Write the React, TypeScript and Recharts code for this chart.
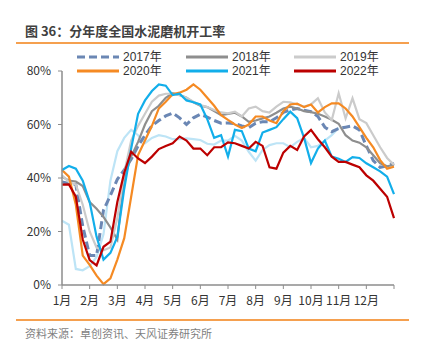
import React from 'react';
import { LineChart, Line, XAxis, YAxis } from 'recharts';

// weekly utilisation (%), week index 0..48
const WEEKS = Array.from({ length: 49 }, (_, i) => i);
const MONTHS = ['1月', '2月', '3月', '4月', '5月', '6月', '7月', '8月', '9月', '10月', '11月', '12月'];
const Y_TICKS = [0, 20, 40, 60, 80];

const s2017 = [38.5, 38, 37.5, 22, 11, 11, 28, 33.5, 39.5, 43, 47, 52, 56, 59.5, 61.5, 63.2, 64.3, 62.5, 60, 62.5, 63.8, 62.8, 61.5, 60.5, 60.6, 60.3, 59.5, 58.8, 60.5, 61, 61, 62.5, 64.5, 65.5, 66, 65.3, 64.8, 63, 59, 57.3, 58.5, 59, 59.5, 58, 52, 46.5, 44, 44.5, 45.5];
const s2018 = [40.5, 39, 38.7, 37, 31, 28.5, 25.5, 21.5, 17, 40, 48, 53.5, 60, 65, 67, 70, 71.7, 71, 70, 68.3, 67, 66.5, 65, 63.5, 64, 64.4, 63, 61, 61.5, 62.3, 63, 64.4, 66, 66.7, 66, 65, 64.6, 64, 63, 61.8, 60.3, 56, 54, 53.2, 51.5, 48.5, 45.5, 44.4, 44.9];
const s2019 = [41, 38.5, 37.5, 30, 20, 14, 13, 14, 25, 42, 54, 59.5, 64, 68.5, 70.8, 71.5, 71.5, 71, 70, 68.5, 67.3, 66.5, 65.4, 64.5, 64.2, 64.8, 63, 66, 66.7, 65, 64.5, 66.7, 68.5, 68.3, 67.5, 66.7, 67.5, 69.8, 64.5, 61.7, 71.7, 62.3, 69.8, 62, 60.5, 56, 51.5, 47.5, 44.9];
const s2020 = [43, 40.5, 30, 11, 7.5, 3.5, 0.3, 2.5, 9.5, 17.5, 33, 48.6, 54, 59.5, 66, 68.5, 71.3, 71.9, 73, 75, 73, 70, 67, 63.5, 61.7, 60, 58.7, 60, 63, 63, 61.5, 60.5, 65, 67.5, 67.8, 66.5, 67.5, 64.5, 66.5, 67.9, 67.9, 66, 63, 59, 55, 51.5, 46.7, 43.5, 44.2];
const s2021 = [43, 44.5, 43.5, 39, 31, 18, 9.5, 12, 18, 36, 51, 64, 69, 72.5, 75, 74.5, 71, 71.5, 69, 68.3, 67.5, 62, 55, 56, 48, 58, 57.5, 51, 50, 57, 58, 59, 62, 64.8, 62.4, 55, 45.6, 51, 54, 48, 47.2, 46, 47.8, 47.5, 45.5, 44, 42.5, 40.5, 34];
const s2022 = [37.5, 37.6, 33, 17, 9.3, 7.3, 14.3, 16.2, 31, 42, 49.8, 47.3, 45.6, 48, 50.8, 52, 53, 55.5, 54, 51, 51, 48.5, 51.5, 51.5, 53.3, 53, 52, 51, 53.5, 52, 44, 43.5, 49.5, 52, 50.5, 55.5, 58, 54.5, 51.5, 48, 46, 46, 45, 44, 41, 39, 36, 33, 25];
// light blue line without a legend entry
const sExtra = [24, 22.5, 6, 5.5, 7, 10.5, 19, 39, 50, 55, 58, 56, 53, 55, 56, 55.5, 54.5, 54.5, 54.8, 54.5, 54.2, 52.8, 52.5, 54, 54, 55.8, 54, 49.8, 46.5, 50.5, 52.3, 53, 53, 51.5, 53.5, 55, 51.5, 52, 54, 56, 58.8];

const rows = WEEKS.map((w, i) => ({
  w,
  extra: i < sExtra.length ? sExtra[i] : null,
  y2017: s2017[i],
  y2018: s2018[i],
  y2019: s2019[i],
  y2020: s2020[i],
  y2021: s2021[i],
  y2022: s2022[i],
}));

const SERIES = [
  { key: 'y2017', name: '2017年', color: '#6B87B4', width: 3, dash: '8 4' },
  { key: 'y2018', name: '2018年', color: '#8E8E8E', width: 2.2 },
  { key: 'y2019', name: '2019年', color: '#CBCBCB', width: 2.2 },
  { key: 'y2020', name: '2020年', color: '#F58A23', width: 2.2 },
  { key: 'y2021', name: '2021年', color: '#12AEEA', width: 2.2 },
  { key: 'y2022', name: '2022年', color: '#BC0000', width: 2.2 },
];

const FONT = '"Noto Sans CJK SC", "Noto Sans", sans-serif';
const LEGEND_FONT = '"Liberation Sans", "Noto Sans CJK SC", sans-serif';
const LEGEND_X = [76, 185, 293];
const LEGEND_Y = [56.5, 70.5];

function LegendBox() {
  return (
    <>
      {SERIES.map((s, i) => {
        const left = LEGEND_X[i % 3];
        const top = LEGEND_Y[Math.floor(i / 3)];
        return (
          <div key={s.key} style={{ position: 'absolute', left, top: top - 6, height: 12, display: 'flex', alignItems: 'center' }}>
            <svg width={44} height={6}>
              <line x1={1} y1={3} x2={43} y2={3} stroke={s.color} strokeWidth={3} strokeDasharray={s.dash} />
            </svg>
            <span style={{ marginLeft: 3, fontSize: 12, color: '#333', lineHeight: '12px', fontFamily: LEGEND_FONT }}>{s.name}</span>
          </div>
        );
      })}
    </>
  );
}

export default function App() {
  return (
    <div style={{ position: 'absolute', left: 0, top: 0, width: 423, height: 352, background: '#fff', fontFamily: FONT, overflow: 'hidden' }}>
      <div style={{ position: 'absolute', left: 25, top: 22, fontSize: 13, fontWeight: 'bold', color: '#404040', lineHeight: '18px' }}>
        图 36：分年度全国水泥磨机开工率
      </div>
      <div style={{ position: 'absolute', left: 16, top: 42, width: 393, height: 1.5, background: '#F5A04F' }} />
      <LineChart width={423} height={352} data={rows} margin={{ top: 71, right: 29, bottom: 0, left: 0 }}>
        <XAxis
          type="number"
          dataKey="w"
          domain={[0, 48]}
          ticks={[0, 4, 8, 12, 16, 20, 24, 28, 32, 36, 40, 44, 48]}
          tickFormatter={(v: number) => (v < 48 ? MONTHS[v / 4] : '')}
          height={67}
          axisLine={{ stroke: '#8c8c8c', strokeWidth: 1.5 }}
          tickLine={{ stroke: '#8c8c8c' }}
          tickSize={4}
          tickMargin={7}
          tick={{ fill: '#333', fontSize: 12 }}
          interval={0}
        />
        <YAxis
          type="number"
          domain={[0, 80]}
          ticks={Y_TICKS}
          tickFormatter={(v: number) => `${v}%`}
          width={62}
          axisLine={{ stroke: '#8c8c8c', strokeWidth: 1.5 }}
          tickLine={{ stroke: '#8c8c8c' }}
          tickSize={4}
          tickMargin={7}
          tick={{ fill: '#333', fontSize: 12 }}
          interval={0}
        />
        <Line dataKey="extra" stroke="#BDE4F6" strokeWidth={2.2} dot={false} isAnimationActive={false} connectNulls={false} />
        {SERIES.map((s) => (
          <Line
            key={s.key}
            dataKey={s.key}
            name={s.name}
            stroke={s.color}
            strokeWidth={s.width}
            strokeDasharray={s.dash}
            dot={false}
            isAnimationActive={false}
          />
        ))}
      </LineChart>
      <LegendBox />
      <div style={{ position: 'absolute', left: 16, top: 319, width: 393, height: 1.5, background: '#F5A04F' }} />
      <div style={{ position: 'absolute', left: 25, top: 326, fontSize: 11, color: '#7f7f7f', lineHeight: '14px' }}>
        资料来源：卓创资讯、天风证券研究所
      </div>
    </div>
  );
}
